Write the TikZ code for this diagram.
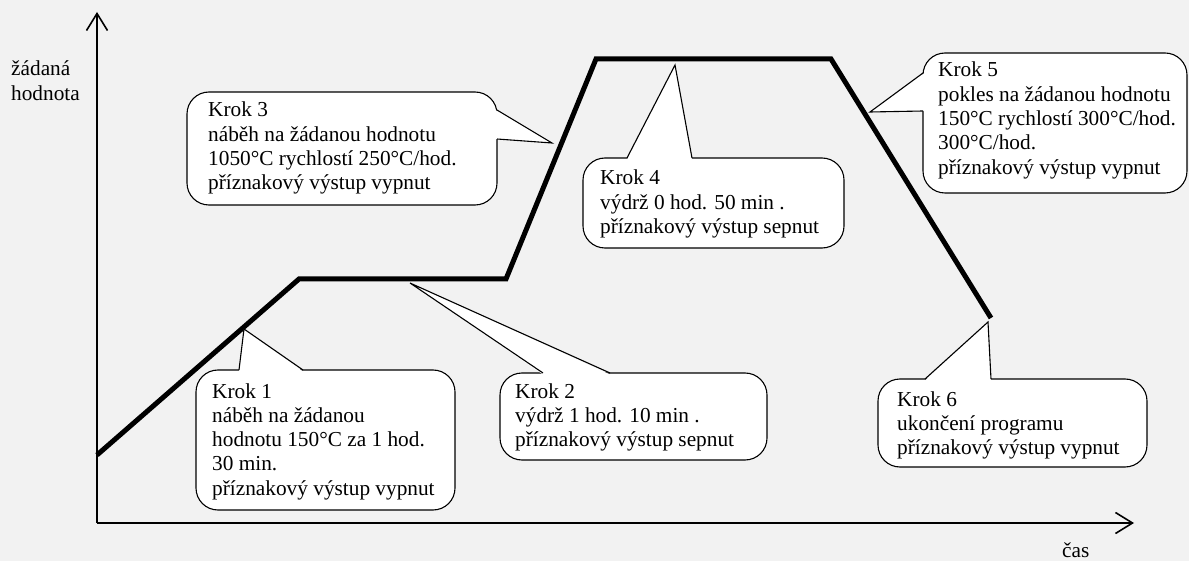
\documentclass[tikz,border=0pt]{standalone}
\usepackage{fontspec}
\setmainfont{Liberation Serif}
\usetikzlibrary{arrows.meta}
\definecolor{bgc}{HTML}{F2F2F2}
\begin{document}
\begin{tikzpicture}[x=1pt,y=-1pt,
  curve/.style={line width=5pt,line join=miter},
  axis/.style={line width=1.6pt,-{Straight Barb[length=17pt,width=21pt,line width=1.6pt]}},
  box/.style={fill=white,draw=black,line width=1.1pt,rounded corners=22pt},
  ptr/.style={draw=black,line width=1.1pt,line join=miter},
  txt/.style={anchor=base west,inner sep=0pt,align=left,font=\fontsize{21.3}{24.3}\selectfont}]
\useasboundingbox (0,0) rectangle (1189,561);
\fill[bgc] (0,0) rectangle (1189,561);
% axes
\coordinate (O) at (97,523);
\coordinate (Ytip) at (97,12);
\coordinate (Xtip) at (1134,523);
\draw[axis] (O) -- (Ytip);
\draw[axis] (O) -- (Xtip);
% text nodes are anchored at the baseline of their last line
\node[txt,font=\fontsize{21.3}{25}\selectfont] (ylab) at (11,101) {žádaná\\hodnota};
\node[txt] (xlab) at (1062,557) {čas};
% curve
\coordinate (p0) at (97,455);
\coordinate (p1) at (299,279);
\coordinate (p2) at (506,279);
\coordinate (p3) at (596,59);
\coordinate (p4) at (831,59);
\coordinate (p5) at (991,318);
\draw[curve] (p0) -- (p1) -- (p2) -- (p3) -- (p4) -- (p5);
% callout 1
\coordinate (c1) at (244,329);
\draw[box] (196,370) rectangle (455,510);
\fill[white] (239,371.5) -- (c1) -- (303,371.5) -- cycle;
\draw[ptr] (239,370) -- (c1) -- (303,370);
\node[txt] (t1) at (212,495.2) {Krok 1\\náběh na žádanou\\hodnotu 150°C za 1 hod.\\30 min.\\příznakový výstup vypnut};
% callout 2
\coordinate (c2) at (410,283);
\draw[box] (500,373) rectangle (767,460);
\fill[white] (543,374.5) -- (c2) -- (610,374.5) -- cycle;
\draw[ptr] (543,373) -- (c2) -- (610,373);
\node[txt] (t2) at (515,446.6) {Krok 2\\výdrž 1 hod. 10 min .\\příznakový výstup sepnut};
% callout 3
\coordinate (c3) at (552,143);
\draw[box] (187,92) rectangle (497,205);
\fill[white] (495.5,110) -- (c3) -- (495.5,139) -- cycle;
\draw[ptr] (497,110) -- (c3) -- (497,139);
\node[txt] (t3) at (208,189.9) {Krok 3\\náběh na žádanou hodnotu\\1050°C rychlostí 250°C/hod.\\příznakový výstup vypnut};
% callout 4
\coordinate (c4) at (675,65);
\draw[box] (583,158) rectangle (844,248);
\fill[white] (627,159.5) -- (c4) -- (692,159.5) -- cycle;
\draw[ptr] (627,158) -- (c4) -- (692,158);
\node[txt] (t4) at (600,233.6) {Krok 4\\výdrž 0 hod. 50 min .\\příznakový výstup sepnut};
% callout 5
\coordinate (c5) at (870,112);
\draw[box] (923,53) rectangle (1187,193);
\fill[white] (924.5,73) -- (c5) -- (924.5,111) -- cycle;
\draw[ptr] (923,73) -- (c5) -- (923,111);
\node[txt] (t5) at (938,174.2) {Krok 5\\pokles na žádanou hodnotu\\150°C rychlostí 300°C/hod.\\300°C/hod.\\příznakový výstup vypnut};
% callout 6
\coordinate (c6) at (988,322);
\draw[box] (878,379) rectangle (1147,467);
\fill[white] (925,380.5) -- (c6) -- (991,380.5) -- cycle;
\draw[ptr] (925,379) -- (c6) -- (991,379);
\node[txt] (t6) at (897,454.6) {Krok 6\\ukončení programu\\příznakový výstup vypnut};
\end{tikzpicture}
\end{document}
